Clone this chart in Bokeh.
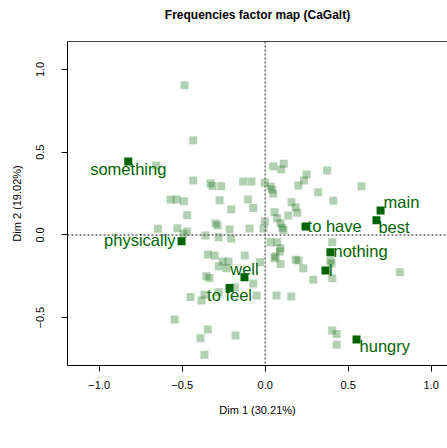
from bokeh.plotting import figure
from bokeh.models import Range1d, FixedTicker, LinearAxis, Span, ColumnDataSource
from bokeh.core.properties import value
from bokeh.embed import file_html
from bokeh.resources import INLINE

# ---------------- data ----------------
# frequencies (light squares)
freq_x = [-0.486, -0.434, -0.657, -0.434, -0.330, -0.317, -0.265, -0.133, -0.083,
          -0.570, -0.534, -0.490, -0.275, -0.104, -0.205, -0.072, -0.470, -0.299,
          -0.287, -0.215, -0.095, -0.647, -0.530, -0.470, -0.492, -0.360, -0.281,
          -0.205, 0.048, 0.112, 0.096, 0.373, 0.249, 0.233, 0.199, -0.002, 0.032,
          0.041, 0.048, 0.319, 0.410, 0.158, 0.183, 0.193, 0.139, 0.056, 0.072,
          0.092, 0.102, -0.002, -0.010, 0.580, -0.346, -0.305, -0.123, -0.257,
          -0.221, -0.280, -0.233, -0.354, -0.336, -0.183, -0.450, -0.384, -0.366,
          -0.280, -0.031, -0.072, 0.110, 0.032, 0.072, 0.092, 0.088, 0.062, 0.056,
          0.092, 0.183, 0.201, 0.229, 0.289, 0.404, 0.393, 0.404, -0.052, 0.068,
          0.157, -0.546, -0.346, -0.390, -0.179, -0.366, 0.404, 0.430, 0.430,
          0.811, 0.399]
freq_y = [0.905, 0.572, 0.419, 0.329, 0.311, 0.295, 0.294, 0.323, 0.323,
          0.214, 0.214, 0.204, 0.210, 0.214, 0.153, 0.163, 0.119, 0.069,
          0.057, 0.033, 0.039, 0.037, 0.040, 0.021, 0.007, -0.004, -0.014,
          -0.022, 0.415, 0.430, 0.395, 0.389, 0.365, 0.329, 0.298, 0.315, 0.292,
          0.274, 0.248, 0.258, 0.206, 0.198, 0.167, 0.134, 0.117, 0.137, 0.101,
          0.071, 0.043, 0.083, 0.039, 0.294, -0.118, -0.124, -0.124, -0.161,
          -0.161, -0.189, -0.201, -0.250, -0.260, -0.316, -0.375, -0.396, -0.362,
          -0.346, -0.165, -0.294, 0.030, -0.044, -0.044, -0.080, -0.100, -0.129, -0.141,
          -0.175, -0.150, -0.155, -0.201, -0.271, -0.044, -0.155, -0.262, -0.366, -0.366,
          -0.372, -0.511, -0.572, -0.624, -0.608, -0.724, -0.578, -0.598, -0.664,
          -0.225, -0.173]

# labelled words (dark squares)
word_labels = ["something", "physically", "well", "to feel", "to have",
               "main", "best", "nothing", "I", "hungry"]
word_x = [-0.825, -0.504, -0.125, -0.215, 0.243, 0.695, 0.670, 0.393, 0.363, 0.550]
word_y = [0.443, -0.038, -0.256, -0.321, 0.051, 0.147, 0.089, -0.105, -0.215, -0.632]

x_ticks = [-1.0, -0.5, 0.0, 0.5, 1.0]
x_tick_labels = ["\u22121.0", "\u22120.5", "0.0", "0.5", "1.0"]
y_ticks = [-0.5, 0.0, 0.5, 1.0]
y_tick_labels = ["\u22120.5", "0.0", "0.5", "1.0"]

title_text = "Frequencies factor map (CaGalt)"
x_title = "Dim 1 (30.21%)"
y_title = "Dim 2 (19.02%)"

# label placement (style: pixel offsets and alignment)
label_style = {
    "something": ("center", 0, 7),
    "physically": ("right", -6, -1),
    "well": ("center", 0, -8),
    "to feel": ("center", 0, 7),
    "to have": ("left", 2, 0),
    "main": ("left", 3, -8.5),
    "best": ("left", 2, 7),
    "nothing": ("left", 3, -1.5),
    "I": ("left", 3, 0),
    "hungry": ("left", 3, 6.5),
}

FONT = "Liberation Sans"
DARK = "#006400"

p = figure(width=447, height=448, output_backend="svg", toolbar_location=None,
           x_range=Range1d(-1.191, 1.098), y_range=Range1d(-0.789, 1.1686),
           min_border_left=67, min_border_right=0, min_border_top=41,
           min_border_bottom=83)
p.xgrid.visible = False
p.ygrid.visible = False
p.outline_line_color = None
p.background_fill_color = "white"
p.border_fill_color = "white"

# an empty second line gives the title box enough height to sit near the top
p.title.text = title_text + "\n\u00a0"
p.title.align = "center"
p.title.vertical_align = "top"
p.title.text_font = FONT
p.title.text_font_size = "12px"
p.title.text_font_style = "bold"
p.title.text_color = "black"
p.title.standoff = 8

# axes
for ax, ticks, labels in ((p.xaxis[0], x_ticks, x_tick_labels),
                          (p.yaxis[0], y_ticks, y_tick_labels)):
    ax.ticker = FixedTicker(ticks=ticks)
    ax.major_label_overrides = {t: l for t, l in zip(ticks, labels)}
    ax.minor_tick_line_color = None
    ax.major_tick_out = 6
    ax.major_tick_in = 0
    ax.axis_line_color = "black"
    ax.major_tick_line_color = "black"
    ax.major_label_text_font = FONT
    ax.major_label_text_font_size = "11px"
    ax.major_label_text_color = "black"
    ax.axis_label_text_font = FONT
    ax.axis_label_text_font_size = "11px"
    ax.axis_label_text_font_style = "normal"
    ax.axis_label_text_color = "black"

p.xaxis[0].axis_label = x_title
p.xaxis[0].major_label_standoff = 9
p.xaxis[0].axis_label_standoff = 12
p.yaxis[0].axis_label = y_title
p.yaxis[0].major_label_orientation = "vertical"
p.yaxis[0].major_label_standoff = 17
p.yaxis[0].axis_label_standoff = 11

top = LinearAxis(ticker=FixedTicker(ticks=[]), major_tick_line_color=None,
                 minor_tick_line_color=None, major_tick_out=0, major_tick_in=0,
                 major_label_standoff=0, major_label_text_font_size="0px",
                 axis_line_color="#444444")
p.add_layout(top, "above")

# reference lines
p.add_layout(Span(location=0, dimension="height", line_color="#666666",
                  line_dash="2 2", line_width=1.5))
p.add_layout(Span(location=0, dimension="width", line_color="#666666",
                  line_dash="2 2", line_width=1.5))

# points
p.scatter(freq_x, freq_y, marker="square", size=8, fill_color=DARK,
          fill_alpha=0.3, line_color=None)
p.scatter(word_x, word_y, marker="square", size=8, fill_color=DARK,
          line_color=None)

# labels
for align in ("left", "right", "center"):
    sel = [i for i, w in enumerate(word_labels) if label_style[w][0] == align]
    src = ColumnDataSource(dict(
        x=[word_x[i] for i in sel], y=[word_y[i] for i in sel],
        text=[word_labels[i] for i in sel],
        dx=[label_style[word_labels[i]][1] for i in sel],
        dy=[label_style[word_labels[i]][2] for i in sel]))
    p.text(x="x", y="y", text="text", x_offset="dx", y_offset="dy", source=src,
           text_align=align, text_baseline="middle", text_font=value(FONT),
           text_font_size=value("16.5px"), text_color=DARK)

open("out.html", "w").write(file_html(p, INLINE))
